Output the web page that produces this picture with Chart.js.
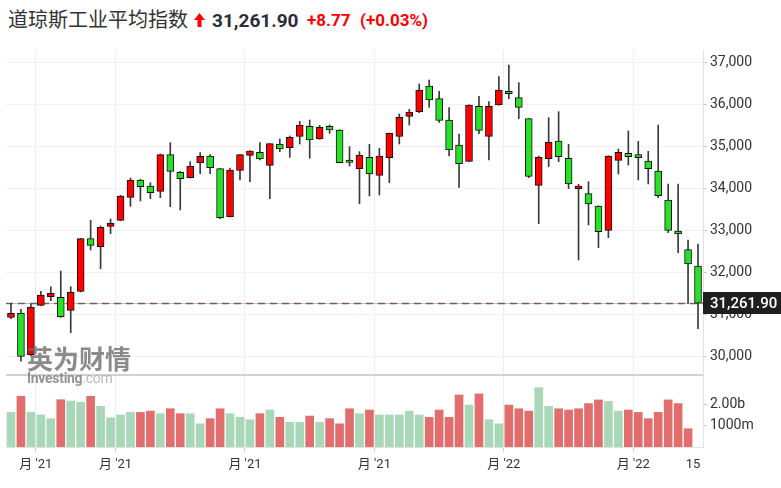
<!DOCTYPE html>
<html lang="zh">
<head>
  <meta charset="UTF-8">
  <title>道琼斯工业平均指数</title>
  <script src="https://cdn.jsdelivr.net/npm/chart.js"></script>
  <style>
    body {
      margin: 0;
      width: 781px;
      height: 488px;
      background: #fff;
      position: relative;
      overflow: hidden;
      font-family: Roboto, "Noto Sans CJK SC", sans-serif;
    }
    .hdr { position: absolute; white-space: nowrap; }
    .title { left: 8px; top: 9px; font: 20px/20px "Noto Sans CJK SC", sans-serif; color: #333; }
    .last { left: 212px; top: 11px; font: bold 19px/19px Roboto, sans-serif; color: #2a2e39; }
    .chg { top: 12px; font: bold 17px/17px Roboto, sans-serif; color: #f00; }
    /* canvases overlap a little: the y-axis label padding (~11px) eats into them */
    #price { position: absolute; left: 0; top: 38px; }
    #vol { position: absolute; left: 0; top: 363px; }
    .wm { position: absolute; pointer-events: none; white-space: nowrap; opacity: 0.8; }
    .wm1 { left: 27px; top: 345px; font: bold 26px/26px "Noto Sans CJK SC", sans-serif; color: #6e6e6e; }
    .wm2 { left: 27px; top: 371px; font: bold 14px/14px Roboto, sans-serif; color: #7a7a7a; letter-spacing: -0.3px; }
    .wm2 span { font-weight: normal; color: #a8a8a8; }
  </style>
</head>
<body>
  <span class="hdr title">道琼斯工业平均指数</span>
  <svg class="hdr" style="left:194px; top:13px" width="11" height="14" viewBox="0 0 11 14">
    <polygon points="5.5,0 11,7 7.5,7 7.5,14 3.5,14 3.5,7 0,7" fill="#f00"/>
  </svg>
  <span class="hdr last">31,261.90</span>
  <span class="hdr chg" style="left:307px">+8.77</span>
  <span class="hdr chg" style="left:360px">(+0.03%)</span>

  <canvas id="price" width="781" height="349"></canvas>
  <canvas id="vol" width="781" height="125"></canvas>

  <div class="wm wm1">英为财情</div>
  <div class="wm wm2">Investing<span>.com</span></div>

  <script>
    // weekly candles, 18 Jan 2021 .. 16 May 2022
    const weeks = [];
    for (let i = 0, d = Date.UTC(2021, 0, 18); i < 70; i++, d += 7 * 864e5) {
      weeks.push(new Date(d).toISOString().slice(0, 10));
    }

    const opens = [30920, 31018, 30030, 31209, 31416, 31400, 31090, 31544, 32800, 32610,
      33095, 33238, 33787, 34200, 34057, 33930, 34805, 34383, 34256, 34614,
      34773, 34471, 33326, 34431, 34789, 34861, 34551, 35060, 34972, 35243,
      35481, 35179, 35481, 35394, 34678, 34471, 34741, 34312, 34734, 35243,
      35720, 35831, 36444, 36142, 35632, 35036, 34646, 35959, 35243, 35990,
      36317, 36165, 35664, 34073, 34710, 35131, 34718, 33994, 33874, 33580,
      32999, 34670, 34837, 34805, 34654, 34415, 33723, 32983, 32538, 32148];
    const highs = [31257, 31114, 31233, 31544, 31655, 32029, 31655, 32810, 33238, 33103,
      33270, 33835, 34248, 34216, 34137, 34821, 35092, 34407, 34638, 34853,
      34805, 34475, 34487, 34810, 34900, 35092, 35070, 35179, 35251, 35601,
      35632, 35505, 35513, 35400, 34996, 34877, 35052, 34956, 35320, 35776,
      35887, 36492, 36587, 36317, 35927, 35298, 35995, 36197, 36070, 36667,
      36945, 36523, 35670, 34773, 35688, 35831, 35052, 34097, 34161, 33585,
      34780, 34940, 35370, 35123, 34885, 35513, 34105, 34105, 32769, 32673];
    const lows = [30890, 29880, 30000, 31200, 31321, 30923, 30557, 31530, 32530, 32085,
      32920, 33230, 33572, 33699, 33755, 33779, 33564, 33485, 34250, 34352,
      34352, 33278, 33320, 34201, 34161, 34678, 33755, 34877, 34741, 35060,
      34718, 35170, 35314, 34610, 34535, 33636, 33819, 33843, 34137, 35060,
      35513, 35807, 35935, 35577, 34773, 34025, 34640, 35306, 34678, 35985,
      36142, 35664, 34256, 33158, 34519, 34638, 33994, 32291, 33127, 32586,
      32824, 34344, 34559, 34201, 34105, 33779, 32944, 32466, 31257, 30653];
    const closes = [31018, 29990, 31160, 31456, 31496, 30939, 31520, 32800, 32641, 33071,
      33166, 33819, 34200, 34041, 33898, 34805, 34407, 34232, 34535, 34765,
      34495, 33302, 34439, 34805, 34893, 34702, 35068, 34940, 35219, 35513,
      35155, 35458, 35394, 34614, 34622, 34797, 34344, 34773, 35314, 35696,
      35823, 36348, 36110, 35624, 34917, 34590, 35990, 35386, 35959, 36348,
      36261, 35935, 34288, 34741, 35099, 34757, 34105, 34057, 33628, 32967,
      34773, 34861, 34757, 34734, 34471, 33827, 32999, 32912, 32196, 31261.90];

    // volume in billions; the current week has no bar yet
    const volumes = [1.61, 2.36, 1.61, 1.49, 1.32, 2.20, 2.14, 2.08, 2.36, 1.89,
      1.36, 1.49, 1.61, 1.61, 1.67, 1.55, 1.78, 1.55, 1.55, 1.08,
      1.32, 1.78, 1.55, 1.38, 1.27, 1.55, 1.72, 1.38, 1.15, 1.15,
      1.44, 1.15, 1.32, 1.08, 1.78, 1.55, 1.72, 1.49, 1.49, 1.49,
      1.67, 1.49, 1.38, 1.72, 1.38, 2.42, 1.95, 2.47, 1.27, 1.08,
      1.95, 1.78, 1.67, 2.76, 1.89, 1.78, 1.72, 1.78, 2.02, 2.19,
      2.12, 1.67, 1.72, 1.61, 1.32, 1.61, 2.19, 2.02, 0.85, null];
    // 1 = red bar, 0 = green bar
    const volRed = [0, 1, 0, 0, 0, 1, 0, 0, 1, 0,
      0, 0, 0, 1, 1, 0, 1, 1, 0, 0,
      1, 1, 0, 0, 0, 1, 0, 1, 0, 0,
      1, 0, 1, 1, 1, 0, 1, 0, 0, 0,
      0, 0, 1, 1, 1, 1, 0, 1, 0, 0,
      1, 1, 1, 0, 0, 1, 1, 1, 1, 1,
      0, 0, 1, 1, 1, 1, 1, 1, 1, 0];

    const priceTicks = [30000, 31000, 32000, 33000, 34000, 35000, 36000, 37000];
    const volTicks = [1e9, 2e9];
    const volTickText = ['1000m', '2.00b'];
    const gridIdx = [3, 11, 24, 37, 50, 63];
    const tickIdx = [3, 11, 24, 37, 50, 63, 69];
    const tickText = ["月 '21", "月 '21", "月 '21", "月 '21", "月 '22", "月 '22", '15'];

    const FONT = 'Roboto, "Noto Sans CJK SC", sans-serif';
    const RED = '#ff0000', GREEN = '#27e027';
    const lastClose = closes[closes.length - 1];

    Chart.defaults.font.family = FONT;

    const vGrid = ctx => gridIdx.includes(ctx.index) ? '#eeeeee' : 'rgba(0,0,0,0)';
    const vTick = ctx => gridIdx.includes(ctx.index) ? '#d0d0d0' : 'rgba(0,0,0,0)';

    const lastPriceLine = {
      id: 'lastPriceLine',
      beforeDatasetsDraw(chart) {
        const { ctx, chartArea: a, scales: { y } } = chart;
        const py = Math.round(y.getPixelForValue(lastClose)) + 0.5;
        ctx.save();
        ctx.strokeStyle = '#f2a8a8';
        ctx.lineWidth = 1;
        ctx.beginPath(); ctx.moveTo(a.left, py); ctx.lineTo(a.right, py); ctx.stroke();
        ctx.strokeStyle = '#666';
        ctx.lineWidth = 1.5;
        ctx.setLineDash([7, 5]);
        ctx.beginPath(); ctx.moveTo(a.left, py); ctx.lineTo(a.right, py); ctx.stroke();
        ctx.restore();
      },
      afterDraw(chart) {
        const { ctx, chartArea: a, scales: { y } } = chart;
        const py = Math.round(y.getPixelForValue(lastClose));
        ctx.save();
        ctx.fillStyle = '#1f1f1f';
        ctx.fillRect(a.right, py - 11, chart.width - a.right, 22);
        ctx.fillStyle = '#fff';
        ctx.font = '500 15px ' + FONT;
        ctx.textBaseline = 'middle';
        ctx.fillText(lastClose.toLocaleString('en-US', { minimumFractionDigits: 2 }), 710, py + 1);
        ctx.restore();
      }
    };

    const separator = {
      id: 'separator',
      afterDraw(chart) {
        const { ctx, chartArea: a } = chart;
        ctx.save();
        ctx.strokeStyle = '#d2d2d2';
        ctx.lineWidth = 2;
        ctx.beginPath(); ctx.moveTo(a.left, a.top); ctx.lineTo(a.right, a.top); ctx.stroke();
        ctx.restore();
      }
    };

    new Chart(document.getElementById('price'), {
      type: 'bar',
      data: {
        labels: weeks,
        datasets: [
          {
            data: opens.map((o, i) => [o, closes[i]]),
            backgroundColor: opens.map((o, i) => closes[i] >= o ? RED : GREEN),
            borderColor: '#111',
            borderWidth: 1,
            borderSkipped: false,
            barThickness: 7,
            grouped: false,
            order: 1
          },
          {
            data: lows.map((l, i) => [l, highs[i]]),
            backgroundColor: '#3a3a3a',
            barThickness: 1,
            grouped: false,
            order: 2
          }
        ]
      },
      options: {
        responsive: false,
        animation: false,
        layout: { padding: { left: 6, top: 12, right: 0, bottom: 12 } },
        plugins: { legend: { display: false }, tooltip: { enabled: false } },
        scales: {
          x: {
            ticks: { display: false },
            grid: { color: vGrid, drawTicks: false, offset: true },
            border: { display: false },
            afterFit: s => { s.height = 0; }
          },
          y: {
            position: 'right',
            min: 29547,
            max: 37303,
            afterBuildTicks: s => { s.ticks = priceTicks.map(v => ({ value: v })); },
            ticks: {
              color: '#333',
              font: { size: 14 },
              padding: 3,
              callback: v => v.toLocaleString('en-US')
            },
            grid: { color: '#f1f1f1', tickColor: '#c8c8c8', tickLength: 4 },
            border: { color: '#dfe2ea' },
            afterFit: s => { s.width = 78; }
          }
        }
      },
      plugins: [lastPriceLine]
    });

    new Chart(document.getElementById('vol'), {
      type: 'bar',
      data: {
        labels: weeks,
        datasets: [{
          data: volumes.map(v => v == null ? null : v * 1e9),
          backgroundColor: volRed.map(r => r ? '#e26d6d' : '#a8d8b8'),
          barThickness: 8
        }]
      },
      options: {
        responsive: false,
        animation: false,
        layout: { padding: { left: 6, top: 12, right: 0, bottom: 0 } },
        plugins: { legend: { display: false }, tooltip: { enabled: false } },
        scales: {
          x: {
            grid: { color: vGrid, tickColor: vTick, tickLength: 5, offset: true },
            border: { display: true, color: '#e2e2e2' },
            ticks: {
              autoSkip: false,
              maxRotation: 0,
              labelOffset: -5,
              padding: 5,
              color: '#333',
              font: { size: 13 },
              callback: (v, i) => tickIdx.includes(i) ? tickText[tickIdx.indexOf(i)] : ''
            },
            afterFit: s => { s.height = 41; }
          },
          y: {
            position: 'right',
            min: 0,
            max: 3.35e9,
            afterBuildTicks: s => { s.ticks = volTicks.map(v => ({ value: v })); },
            ticks: {
              color: '#333',
              font: { size: 14 },
              padding: 3,
              callback: v => volTickText[volTicks.indexOf(v)]
            },
            grid: { drawOnChartArea: false, tickColor: '#c8c8c8', tickLength: 4 },
            border: { color: '#dfe2ea' },
            afterFit: s => { s.width = 78; }
          }
        }
      },
      plugins: [separator]
    });
  </script>
</body>
</html>
